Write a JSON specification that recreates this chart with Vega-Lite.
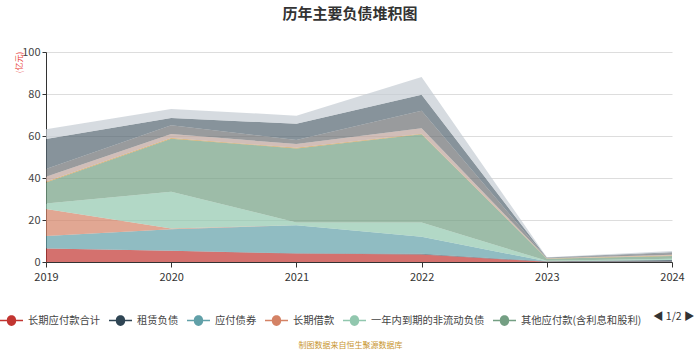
{
  "$schema": "https://vega.github.io/schema/vega-lite/v6.json",
  "width": 626,
  "height": 210,
  "autosize": {"type": "none"},
  "padding": {"left": 46, "top": 52, "right": 28, "bottom": 88},
  "background": "white",
  "title": {
    "text": "历年主要负债堆积图",
    "anchor": "middle",
    "frame": "group",
    "dx": -9,
    "offset": 24,
    "fontSize": 15,
    "fontWeight": "bold",
    "color": "#333333",
    "font": "Noto Sans CJK SC"
  },
  "config": {
    "font": "Noto Sans CJK SC",
    "view": {"stroke": null},
    "axis": {"labelFont": "Noto Sans CJK SC", "titleFont": "Noto Sans CJK SC"}
  },
  "datasets": {
    "series": [
      {"item": "长期应付款合计", "rank": 1},
      {"item": "租赁负债", "rank": 2},
      {"item": "应付债券", "rank": 3},
      {"item": "长期借款", "rank": 4},
      {"item": "一年内到期的非流动负债", "rank": 5},
      {"item": "其他应付款(含利息和股利)", "rank": 6},
      {"item": "长期应付职工薪酬", "rank": 7},
      {"item": "预计负债", "rank": 8},
      {"item": "递延收益", "rank": 9},
      {"item": "递延所得税负债", "rank": 10},
      {"item": "其他非流动负债", "rank": 11}
    ]
  },
  "data": {
    "values": [
      {"year": "2019", "item": "长期应付款合计", "value": 6.4},
      {"year": "2020", "item": "长期应付款合计", "value": 5.3},
      {"year": "2021", "item": "长期应付款合计", "value": 4.0},
      {"year": "2022", "item": "长期应付款合计", "value": 3.6},
      {"year": "2023", "item": "长期应付款合计", "value": 0.1},
      {"year": "2024", "item": "长期应付款合计", "value": 0.1},
      {"year": "2019", "item": "租赁负债", "value": 0},
      {"year": "2020", "item": "租赁负债", "value": 0},
      {"year": "2021", "item": "租赁负债", "value": 0.2},
      {"year": "2022", "item": "租赁负债", "value": 0.3},
      {"year": "2023", "item": "租赁负债", "value": 0.2},
      {"year": "2024", "item": "租赁负债", "value": 0.9},
      {"year": "2019", "item": "应付债券", "value": 6.0},
      {"year": "2020", "item": "应付债券", "value": 10.3},
      {"year": "2021", "item": "应付债券", "value": 13.3},
      {"year": "2022", "item": "应付债券", "value": 8.1},
      {"year": "2023", "item": "应付债券", "value": 0},
      {"year": "2024", "item": "应付债券", "value": 0},
      {"year": "2019", "item": "长期借款", "value": 12.8},
      {"year": "2020", "item": "长期借款", "value": 0.4},
      {"year": "2021", "item": "长期借款", "value": 0},
      {"year": "2022", "item": "长期借款", "value": 0},
      {"year": "2023", "item": "长期借款", "value": 0},
      {"year": "2024", "item": "长期借款", "value": 0},
      {"year": "2019", "item": "一年内到期的非流动负债", "value": 2.7},
      {"year": "2020", "item": "一年内到期的非流动负债", "value": 17.5},
      {"year": "2021", "item": "一年内到期的非流动负债", "value": 1.3},
      {"year": "2022", "item": "一年内到期的非流动负债", "value": 6.8},
      {"year": "2023", "item": "一年内到期的非流动负债", "value": 0.3},
      {"year": "2024", "item": "一年内到期的非流动负债", "value": 0.5},
      {"year": "2019", "item": "其他应付款(含利息和股利)", "value": 10.0},
      {"year": "2020", "item": "其他应付款(含利息和股利)", "value": 25.2},
      {"year": "2021", "item": "其他应付款(含利息和股利)", "value": 35.3},
      {"year": "2022", "item": "其他应付款(含利息和股利)", "value": 42.0},
      {"year": "2023", "item": "其他应付款(含利息和股利)", "value": 1.0},
      {"year": "2024", "item": "其他应付款(含利息和股利)", "value": 1.3},
      {"year": "2019", "item": "长期应付职工薪酬", "value": 0.3},
      {"year": "2020", "item": "长期应付职工薪酬", "value": 0.3},
      {"year": "2021", "item": "长期应付职工薪酬", "value": 0.3},
      {"year": "2022", "item": "长期应付职工薪酬", "value": 0.3},
      {"year": "2023", "item": "长期应付职工薪酬", "value": 0.1},
      {"year": "2024", "item": "长期应付职工薪酬", "value": 0.3},
      {"year": "2019", "item": "预计负债", "value": 2.4},
      {"year": "2020", "item": "预计负债", "value": 1.9},
      {"year": "2021", "item": "预计负债", "value": 1.8},
      {"year": "2022", "item": "预计负债", "value": 2.6},
      {"year": "2023", "item": "预计负债", "value": 0.1},
      {"year": "2024", "item": "预计负债", "value": 0.4},
      {"year": "2019", "item": "递延收益", "value": 3.7},
      {"year": "2020", "item": "递延收益", "value": 4.2},
      {"year": "2021", "item": "递延收益", "value": 1.9},
      {"year": "2022", "item": "递延收益", "value": 8.3},
      {"year": "2023", "item": "递延收益", "value": 0.1},
      {"year": "2024", "item": "递延收益", "value": 0.8},
      {"year": "2019", "item": "递延所得税负债", "value": 14.3},
      {"year": "2020", "item": "递延所得税负债", "value": 3.5},
      {"year": "2021", "item": "递延所得税负债", "value": 7.7},
      {"year": "2022", "item": "递延所得税负债", "value": 7.6},
      {"year": "2023", "item": "递延所得税负债", "value": 0.2},
      {"year": "2024", "item": "递延所得税负债", "value": 0.4},
      {"year": "2019", "item": "其他非流动负债", "value": 4.6},
      {"year": "2020", "item": "其他非流动负债", "value": 4.3},
      {"year": "2021", "item": "其他非流动负债", "value": 3.9},
      {"year": "2022", "item": "其他非流动负债", "value": 8.5},
      {"year": "2023", "item": "其他非流动负债", "value": 0.2},
      {"year": "2024", "item": "其他非流动负债", "value": 0.5}
    ]
  },
  "transform": [
    {"lookup": "item", "from": {"data": {"name": "series"}, "key": "item", "fields": ["rank"]}}
  ],
  "mark": {"type": "area", "fillOpacity": 0.7, "interpolate": "linear"},
  "encoding": {
    "x": {
      "field": "year",
      "type": "ordinal",
      "scale": {"padding": 0},
      "axis": {
        "labelAngle": 0,
        "labelFontSize": 11,
        "labelColor": "#333333",
        "labelPadding": 4,
        "domainColor": "#333333",
        "tickColor": "#333333",
        "tickSize": 5,
        "grid": false,
        "title": "制图数据来自恒生聚源数据库",
        "titleFontSize": 8,
        "titleFontWeight": "normal",
        "titleColor": "#c8952f",
        "titleX": 304,
        "titleY": 83,
        "titleAnchor": null,
        "titleAlign": "center",
        "titleBaseline": "middle"
      }
    },
    "y": {
      "field": "value",
      "type": "quantitative",
      "stack": "zero",
      "scale": {"domain": [0, 100], "nice": false},
      "axis": {
        "values": [0, 20, 40, 60, 80, 100],
        "labelFontSize": 11,
        "labelColor": "#444444",
        "labelPadding": 2,
        "domainColor": "#333333",
        "tickColor": "#333333",
        "tickSize": 4,
        "gridColor": "#dddddd",
        "gridWidth": 1,
        "title": "(亿元)",
        "titleColor": "#e8403a",
        "titleFontSize": 8,
        "titleFontWeight": "normal",
        "titleAngle": -90,
        "titleX": -27,
        "titleY": 10,
        "titleAlign": "center",
        "titleBaseline": "middle"
      }
    },
    "order": {"field": "rank", "type": "quantitative", "sort": "ascending"},
    "color": {
      "field": "item",
      "type": "nominal",
      "scale": {
        "domain": ["长期应付款合计", "租赁负债", "应付债券", "长期借款", "一年内到期的非流动负债", "其他应付款(含利息和股利)", "长期应付职工薪酬", "预计负债", "递延收益", "递延所得税负债", "其他非流动负债"],
        "range": ["#c23531", "#2f4554", "#61a0a8", "#d48265", "#91c7ae", "#749f83", "#ca8622", "#bda29a", "#6e7074", "#546570", "#c4ccd3"]
      },
      "legend": {
        "values": ["长期应付款合计", "租赁负债", "应付债券", "长期借款", "一年内到期的非流动负债", "其他应付款(含利息和股利)"],
        "orient": "none",
        "legendX": -46,
        "legendY": 257,
        "direction": "horizontal",
        "columns": 6,
        "title": "◀ 1/2 ▶",
        "titleOrient": "right",
        "titleFontSize": 10.5,
        "titleFontWeight": "normal",
        "titleColor": "#333333",
        "titlePadding": 12,
        "titleBaseline": "middle",
        "symbolType": "M-1,-0.07L-0.4,-0.07A0.4,0.4 0 1,1 0.4,-0.07L1,-0.07L1,0.07L0.4,0.07A0.4,0.4 0 1,1 -0.4,0.07L-1,0.07Z",
        "symbolSize": 529,
        "symbolOpacity": 1,
        "symbolStrokeWidth": 0,
        "labelFontSize": 10.3,
        "labelColor": "#444444",
        "labelOffset": 5,
        "columnPadding": 8,
        "labelLimit": 200
      }
    }
  }
}
